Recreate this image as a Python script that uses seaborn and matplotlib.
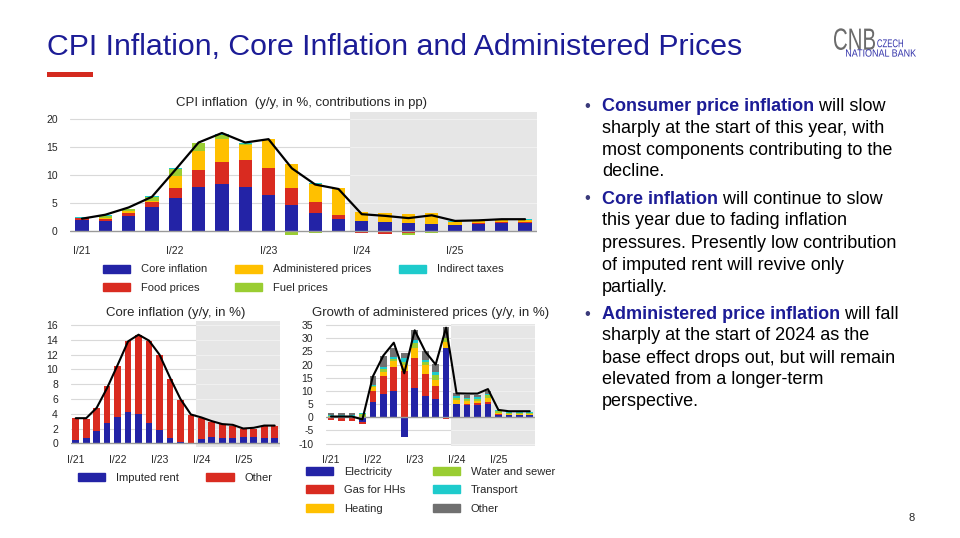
#CPI inflation slide: three panels (CPI contributions, core inflation, administered prices)
#plus the commentary text on the right.

import numpy as np
import matplotlib
matplotlib.use('Agg')
import matplotlib.pyplot as plt
from matplotlib.patches import Patch, Rectangle, PathPatch
from matplotlib.textpath import TextPath
from matplotlib.font_manager import FontProperties
from matplotlib.transforms import Affine2D
import seaborn as sns

#Quarters I/21 .. IV/25
quarters = ['I/21', 'II/21', 'III/21', 'IV/21', 'I/22', 'II/22', 'III/22', 'IV/22',
            'I/23', 'II/23', 'III/23', 'IV/23', 'I/24', 'II/24', 'III/24', 'IV/24',
            'I/25', 'II/25', 'III/25', 'IV/25']
tick_labels = ['I/21', 'I/22', 'I/23', 'I/24', 'I/25']

#CPI inflation, contributions in pp
core_contrib = [1.95, 1.8, 2.7, 4.2, 5.9, 7.8, 8.4, 7.8, 6.4, 4.6, 3.3, 2.1, 1.8, 1.55, 1.4, 1.3, 1.1, 1.2, 1.4, 1.4]
food_contrib = [0.4, 0.3, 0.6, 0.9, 1.7, 3.1, 4.0, 4.9, 4.8, 3.1, 1.8, 0.8, -0.4, -0.5, -0.4, -0.2, 0.0, 0.2, 0.2, 0.25]
admin_contrib = [0.0, 0.2, 0.2, 0.2, 2.3, 3.4, 4.0, 2.7, 5.2, 4.3, 3.3, 4.7, 1.6, 1.75, 1.6, 1.95, 0.5, 0.4, 0.4, 0.35]
fuel_contrib = [0.0, 0.4, 0.5, 0.8, 1.1, 1.4, 0.8, 0.2, 0.0, -0.7, -0.3, 0.0, 0.0, 0.0, -0.25, -0.1, 0.0, 0.0, 0.0, 0.0]
indirect_contrib = [0.1, 0.1, 0.0, 0.1, 0.3, 0.1, 0.2, 0.1, 0.1, 0.0, 0.1, 0.0, 0.0, 0.0, 0.0, 0.0, 0.1, 0.0, 0.05, 0.1]
cpi_total = [2.2, 2.9, 4.2, 6.1, 10.9, 15.8, 17.5, 15.8, 16.4, 11.2, 8.3, 7.5, 3.0, 2.7, 2.3, 2.8, 1.8, 1.9, 2.1, 2.1]

#Core inflation, y/y in %
imputed_rent = [0.45, 0.75, 1.6, 2.7, 3.5, 4.2, 4.0, 2.7, 1.8, 0.75, 0.2, 0.1, 0.55, 0.8, 0.75, 0.75, 0.85, 0.85, 0.75, 0.75]
core_other = [2.95, 2.55, 3.2, 5.0, 7.0, 9.7, 10.6, 11.2, 10.1, 7.95, 5.7, 3.7, 2.85, 2.1, 1.85, 1.65, 1.05, 1.15, 1.55, 1.65]
core_total = [3.4, 3.4, 4.8, 7.5, 10.6, 13.8, 14.7, 13.9, 12.0, 8.9, 6.0, 3.9, 3.5, 3.0, 2.6, 2.5, 2.0, 2.1, 2.4, 2.4]

#Growth of administered prices, y/y in %
electricity = [-0.4, -0.4, -0.4, -1.8, 5.9, 8.7, 10.0, -7.3, 11.0, 8.2, 7.0, 26.4, 4.9, 4.7, 4.6, 5.1, 0.9, 0.8, 0.8, 0.8]
gas_hh = [-0.6, -0.9, -0.9, -0.7, 4.1, 6.8, 9.2, 17.6, 11.4, 8.1, 4.9, -0.6, -0.3, 0.4, 0.7, 0.8, 0.3, 0.2, 0.2, 0.2]
heating = [0.1, 0.1, 0.1, 0.2, 1.6, 1.8, 2.2, 2.1, 4.0, 3.5, 2.3, 2.3, 1.7, 1.2, 1.0, 1.3, 0.3, 0.2, 0.2, 0.2]
water_sewer = [0.3, 0.3, 0.4, 1.0, 0.4, 0.9, 0.9, 1.1, 1.6, 1.3, 1.9, 1.3, 0.9, 0.7, 0.8, 1.3, 0.9, 0.3, 0.3, 0.3]
transport = [0.3, 0.3, 0.3, 0.3, 0.3, 0.8, 0.7, 1.6, 1.3, 0.6, 0.9, 0.0, 0.6, 0.5, 0.5, 0.5, 0.4, 0.4, 0.4, 0.4]
admin_other = [0.8, 0.9, 0.9, 0.3, 3.5, 4.4, 3.4, 1.9, 3.8, 3.6, 3.1, 4.1, 1.0, 1.0, 0.9, 1.1, 0.0, 0.0, 0.0, 0.0]
admin_total = [0.3, 0.3, 0.3, -0.8, 15.5, 23.4, 28.3, 16.7, 33.0, 25.0, 20.0, 34.0, 9.1, 9.0, 9.0, 10.7, 2.8, 2.3, 2.3, 2.3]

BLUE = '#2323a6'
RED = '#d92b20'
YELLOW = '#ffc000'
GREEN = '#9acd32'
TEAL = '#1ecbcc'
GREY = '#707070'
NAVY = '#1c1c96'
SHADE = '#e6e6e6'

sns.set_style('white')
plt.rcParams['font.family'] = ['Liberation Sans', 'DejaVu Sans']
plt.rcParams['axes.unicode_minus'] = False

W, H = 960, 538
fig = plt.figure(figsize=(9.6, 5.38), dpi=100)

def fx(px):
    return px / W

def fy(py):
    return 1 - py / H

def rect(left, right, top, bottom):
    return [left / W, 1 - bottom / H, (right - left) / W, (bottom - top) / H]

def stacked(ax, comps, colors, width):
    x = np.arange(len(quarters))
    pos = np.zeros(len(x))
    neg = np.zeros(len(x))
    for vals, c in zip(comps, colors):
        v = np.asarray(vals, float)
        base = np.where(v >= 0, pos, neg)
        ax.bar(x, v, width, bottom=base, color=c, linewidth=0, zorder=2)
        pos += np.clip(v, 0, None)
        neg += np.clip(v, None, 0)

def style(ax, ylim, yticks, shade_from_zero):
    ax.set_xlim(-0.5, 19.5)
    ax.set_ylim(*ylim)
    ax.set_yticks(yticks)
    ax.set_xticks([0, 4, 8, 12, 16])
    ax.set_xticklabels(tick_labels)
    for s in ax.spines.values():
        s.set_visible(False)
    for t in yticks:
        if t != 0:
            ax.axhline(t, color='#d9d9d9', lw=0.8, zorder=0)
    ymin = (0 - ylim[0]) / (ylim[1] - ylim[0]) if shade_from_zero else 0
    ax.axvspan(11.5, 19.5, ymin=ymin, ymax=1, color=SHADE, lw=0, zorder=1)
    ax.hlines([t for t in yticks if t != 0], 11.5, 19.5, color='#f0f0f0', lw=0.8, zorder=1.2)
    ax.axhline(0, color='#9a9a9a', lw=1.0, zorder=3)
    ax.tick_params(axis='y', length=0, pad=9, labelsize=7.5)
    ax.tick_params(axis='x', length=4, width=0.8, color='#808080', pad=2, labelsize=7.5)
    ax.set_xlabel('')
    ax.set_ylabel('')

def total_line(ax, vals, lw):
    sns.lineplot(x=np.arange(len(quarters)), y=vals, color='black', lw=lw, ax=ax, zorder=4)

leg_kw = dict(frameon=False, fontsize=8, handlelength=2.45, handleheight=0.72,
              handletextpad=1.0, columnspacing=2.45, labelspacing=0.75,
              borderpad=0, borderaxespad=0, loc='upper left')

#Top panel: CPI inflation
ax1 = fig.add_axes(rect(70.3, 536.7, 112.3, 237.7))
cpi_names = ['Core inflation', 'Food prices', 'Administered prices', 'Fuel prices', 'Indirect taxes']
cpi_colors = [BLUE, RED, YELLOW, GREEN, TEAL]
stacked(ax1, [core_contrib, food_contrib, admin_contrib, fuel_contrib, indirect_contrib], cpi_colors, 0.57)
total_line(ax1, cpi_total, 1.6)
style(ax1, (-1.2, 21.2), [0, 5, 10, 15, 20], True)
fig.text(fx(302), fy(103), 'CPI inflation  (y/y, in %, contributions in pp)', fontsize=9.5, ha='center', va='center')
fig.legend(handles=[Patch(color=c, label=l) for c, l in zip(cpi_colors, cpi_names)], ncol=3,
           bbox_to_anchor=(fx(103), fy(264.5)), **leg_kw)

#Bottom left: core inflation
ax2 = fig.add_axes(rect(70.5, 279.9, 321.4, 447))
stacked(ax2, [imputed_rent, core_other], [BLUE, RED], 0.64)
total_line(ax2, core_total, 1.5)
style(ax2, (-0.5, 16.5), [0, 2, 4, 6, 8, 10, 12, 14, 16], False)
fig.text(fx(175.5), fy(313), 'Core inflation (y/y, in %)', fontsize=9.5, ha='center', va='center')
fig.legend(handles=[Patch(color=BLUE, label='Imputed rent'), Patch(color=RED, label='Other')], ncol=2,
           bbox_to_anchor=(fx(78), fy(472.6)), **leg_kw)

#Bottom right: administered prices
ax3 = fig.add_axes(rect(325.8, 535, 324.5, 446.3))
adm_names = ['Electricity', 'Gas for HHs', 'Heating', 'Water and sewer', 'Transport', 'Other']
adm_colors = [BLUE, RED, YELLOW, GREEN, TEAL, GREY]
stacked(ax3, [electricity, gas_hh, heating, water_sewer, transport, admin_other], adm_colors, 0.64)
total_line(ax3, admin_total, 1.5)
style(ax3, (-11, 35.2), [-10, -5, 0, 5, 10, 15, 20, 25, 30, 35], False)
fig.text(fx(431), fy(313), 'Growth of administered prices (y/y, in %)', fontsize=9.5, ha='center', va='center')
fig.legend(handles=[Patch(color=c, label=l) for c, l in zip(adm_colors, adm_names)], ncol=2,
           bbox_to_anchor=(fx(305.7), fy(467)), **leg_kw)

#Slide title and red underline
fig.text(fx(47), fy(55), 'CPI Inflation, Core Inflation and Administered Prices', fontsize=21.8,
         color=NAVY, ha='left', va='baseline')
fig.add_artist(Rectangle((fx(47.3), fy(76.5)), (93.3 - 47.3) / W, 5 / H, transform=fig.transFigure,
                         color='#d42a1f', lw=0))

#Logo
def fit_text(s, x0, x1, top, bottom, color):
    tp = TextPath((0, 0), s, size=10, prop=FontProperties(family='Liberation Sans'))
    ext = tp.get_extents()
    sx = (x1 - x0) / ext.width
    sy = (bottom - top) / ext.height
    tr = (Affine2D().translate(-ext.x0, -ext.y0).scale(sx, sy)
          .translate(x0, H - bottom).scale(1 / 100.0) + fig.dpi_scale_trans)
    fig.add_artist(PathPatch(tp, transform=tr, color=color, lw=0))

fit_text('CNB', 834, 875, 28.3, 50, '#6b6b6b')
fit_text('CZECH', 877.3, 903, 39.3, 47.3, '#3333aa')
fit_text('NATIONAL BANK', 846, 916, 49.3, 56.7, '#3333aa')

#Commentary text
renderer = fig.canvas.get_renderer()
x_text = 602
bullet_lines = [
    (106.7, 'Consumer price inflation', ' will slow', True),
    (128.3, '', 'sharply at the start of this year, with', False),
    (150.3, '', 'most components contributing to the', False),
    (172.0, '', 'decline.', False),
    (199.0, 'Core inflation', ' will continue to slow', True),
    (221.0, '', 'this year due to fading inflation', False),
    (243.3, '', 'pressures. Presently low contribution', False),
    (265.0, '', 'of imputed rent will revive only', False),
    (287.0, '', 'partially.', False),
    (314.3, 'Administered price inflation', ' will fall', True),
    (336.0, '', 'sharply at the start of 2024 as the', False),
    (358.3, '', 'base effect drops out, but will remain', False),
    (380.0, '', 'elevated from a longer-term', False),
    (401.7, '', 'perspective.', False),
]
for y, bold, rest, bullet in bullet_lines:
    x = x_text
    if bullet:
        fig.text(fx(584), fy(y), '\u2022', fontsize=12, color='#3a3a7a', va='center')
    if bold:
        t = fig.text(fx(x), fy(y), bold, fontsize=13, fontweight='bold', color=NAVY, va='center')
        x += t.get_window_extent(renderer).width
    fig.text(fx(x), fy(y), rest, fontsize=13, color='black', va='center')

fig.text(fx(912), fy(518), '8', fontsize=8, ha='center', va='center')

fig.savefig('out.png', dpi=100)
